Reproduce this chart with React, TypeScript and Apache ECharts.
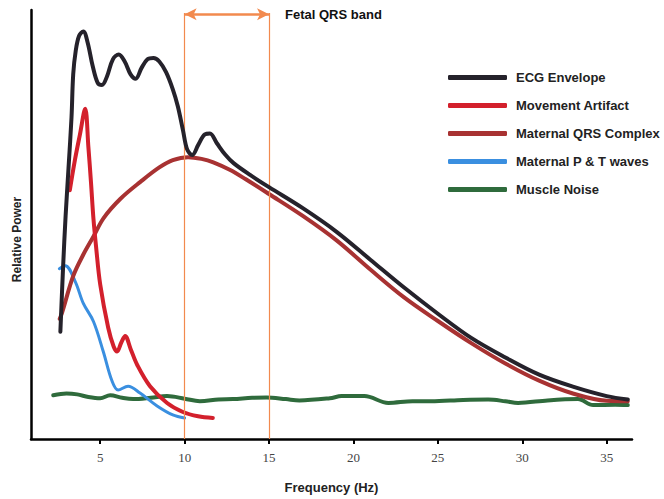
import React, { useEffect, useRef } from "react";
import * as echarts from "echarts";

const xTicks = [5, 10, 15, 20, 25, 30, 35];
const seriesNames = [
  "ECG Envelope",
  "Movement Artifact",
  "Maternal QRS Complex",
  "Maternal P & T waves",
  "Muscle Noise",
];

const ecgEnvelope = [
  [2.64, 25], [2.8, 40], [2.95, 52], [3.12, 63], [3.3, 75], [3.4, 85], [3.55, 90.5],
  [3.75, 94], [4.0, 95], [4.25, 92.5], [4.55, 87], [4.85, 83], [5.1, 82.5], [5.4, 84.5],
  [5.75, 88.5], [6.1, 89.6], [6.45, 88], [6.8, 85], [7.1, 84], [7.45, 86.5], [7.8, 88.5],
  [8.15, 88.8], [8.5, 88], [8.9, 85.5], [9.3, 81.5], [9.6, 77.5], [9.9, 72], [10.15, 67.5],
  [10.45, 66.2], [10.8, 68.5], [11.2, 71], [11.5, 71.2], [11.9, 69], [12.4, 66.3],
  [12.9, 64.3], [13.9, 61.5], [15, 58.7], [17, 53.8], [19, 48.3], [21, 41.8], [23, 35.3],
  [25, 29.2], [27, 23.5], [29, 19], [31, 15], [33, 12.2], [35, 10], [36.25, 9.2],
];

const movementArtifact = [
  [3.2, 58], [3.5, 65], [3.8, 71], [4.11, 77], [4.3, 68], [4.45, 60], [4.6, 51.3],
  [4.75, 45], [5.0, 36], [5.47, 26], [5.8, 21.5], [6.0, 20.4], [6.25, 22.5], [6.48, 24],
  [6.8, 21], [7.2, 17.2], [7.95, 12.3], [8.96, 8.4], [9.9, 6.3], [10.8, 5.3], [11.67, 4.9],
];

const maternalQRS = [
  [2.6, 28], [2.76, 29.7], [3.4, 38], [4.0, 43], [4.6, 47.2], [5.2, 51.5], [6.2, 56],
  [7.4, 60], [8.5, 63.3], [9.3, 65], [10.2, 65.7], [11.0, 65.3], [11.7, 64.5], [12.7, 62.7],
  [13.6, 60.6], [15, 57.1], [17, 52], [19, 46.3], [21, 39.5], [23, 33], [25, 27.5],
  [27, 22.3], [29, 17.6], [31, 13.6], [33, 10.6], [35, 8.9], [36.25, 8.8],
];

const maternalPT = [
  [2.58, 39.7], [2.93, 40.4], [3.52, 36.7], [4.0, 31.6], [4.6, 27.4], [5.18, 20.4],
  [5.7, 13.5], [6.06, 11.4], [6.65, 12.3], [7.36, 10.7], [8.37, 7.7], [9.3, 5.6], [10.0, 4.9],
];

const muscleNoise = [
  [2.22, 10.2], [3.0, 10.6], [3.64, 10.4], [4.3, 9.8], [5.0, 9.5], [5.59, 10.2], [6.3, 9.6],
  [6.95, 9.3], [8.0, 9.6], [8.96, 10], [10.0, 9.4], [10.9, 8.8], [12.0, 9.2], [12.86, 9.3],
  [14.0, 9.6], [14.86, 9.7], [16.0, 9.3], [16.8, 9.0], [18.6, 9.5], [19.3, 10], [20.65, 10],
  [22.07, 8.4], [23.5, 8.8], [24.6, 8.8], [26.5, 9.1], [27.98, 9.2], [29.0, 8.8], [29.75, 8.4],
  [31.5, 9.0], [33.3, 9.3], [34.2, 7.9], [35.5, 8.0], [36.25, 7.9],
];

const fetalBand = [10, 15];
const bandTop = 99.3;
const arrowLevel = 99;

const colors = {
  ecg: "#25222b",
  movement: "#d3202c",
  qrs: "#a83232",
  pt: "#3a8fe0",
  noise: "#2f6b3c",
  band: "#f28a4e",
};

export default function App() {
  const ref = useRef<HTMLDivElement>(null);

  useEffect(() => {
    if (!ref.current) return;
    const chart = echarts.init(ref.current, null, { renderer: "svg" });
    const font = "'Liberation Sans', Arial, sans-serif";
    const lineSeries = (name: string, data: number[][], color: string, width: number, z: number, extra: any = {}) => ({
      name,
      type: "line",
      data,
      smooth: 0.35,
      showSymbol: false,
      symbol: "none",
      color,
      lineStyle: { color, width, cap: "round", join: "round" },
      z,
      ...extra,
    });

    chart.setOption({
      animation: false,
      backgroundColor: "#ffffff",
      grid: { left: 31, right: 32, top: 10, bottom: 58, containLabel: false },
      legend: {
        data: seriesNames,
        orient: "vertical",
        left: 443,
        top: 65,
        icon: "roundRect",
        itemWidth: 59,
        itemHeight: 5,
        itemGap: 13,
        textStyle: {
          fontFamily: font,
          fontWeight: "bold",
          fontSize: 13,
          color: "#222222",
          lineHeight: 15,
          padding: [0, 0, 0, 4],
        },
      },
      xAxis: {
        type: "value",
        min: 0.9,
        max: 36.5,
        name: "Frequency (Hz)",
        nameLocation: "middle",
        nameGap: 42,
        nameTextStyle: { fontFamily: font, fontWeight: "bold", fontSize: 13, color: "#222222" },
        axisLine: { show: true, onZero: false, lineStyle: { color: "#000000", width: 2.5 } },
        axisTick: { show: true, length: 5, lineStyle: { color: "#000000", width: 2 }, customValues: xTicks },
        axisLabel: {
          customValues: xTicks,
          fontFamily: "'Liberation Serif', 'Times New Roman', serif",
          fontSize: 13,
          color: "#444444",
          margin: 12,
        },
        splitLine: { show: false },
      },
      yAxis: {
        type: "value",
        min: 0,
        max: 100,
        name: "Relative Power",
        nameLocation: "middle",
        nameRotate: 90,
        nameGap: 8,
        nameTextStyle: {
          fontFamily: font,
          fontWeight: "bold",
          fontSize: 12,
          color: "#222222",
          padding: [0, 30, 0, 0],
        },
        axisLine: { show: true, onZero: false, lineStyle: { color: "#000000", width: 2.5 } },
        axisTick: { show: false },
        axisLabel: { show: false },
        splitLine: { show: false },
      },
      series: [
        lineSeries("Muscle Noise", muscleNoise, colors.noise, 4, 1, {
          markLine: {
            silent: true,
            symbol: ["none", "none"],
            lineStyle: { color: colors.band, width: 1.2, type: "solid" },
            label: { show: false },
            data: fetalBand.map((f) => [
              { coord: [f, bandTop] },
              { coord: [f, 0] },
            ]),
          },
        }),
        lineSeries("Maternal P & T waves", maternalPT, colors.pt, 3, 2),
        lineSeries("Maternal QRS Complex", maternalQRS, colors.qrs, 4, 3, {
          markLine: {
            silent: true,
            symbol: ["arrow", "arrow"],
            symbolSize: [9, 12],
            lineStyle: { color: colors.band, width: 2.5, type: "solid" },
            label: {
              show: true,
              position: "end",
              distance: 16,
              formatter: "Fetal QRS band",
              fontFamily: font,
              fontWeight: "bold",
              fontSize: 13,
              color: "#111111",
            },
            data: [[{ coord: [fetalBand[0], arrowLevel] }, { coord: [fetalBand[1], arrowLevel] }]],
          },
        }),
        lineSeries("Movement Artifact", movementArtifact, colors.movement, 4, 4),
        lineSeries("ECG Envelope", ecgEnvelope, colors.ecg, 4, 5),
      ],
    });

    return () => chart.dispose();
  }, []);

  return (
    <div
      ref={ref}
      style={{ position: "fixed", left: 0, top: 0, width: 664, height: 499, background: "#fff" }}
    />
  );
}
